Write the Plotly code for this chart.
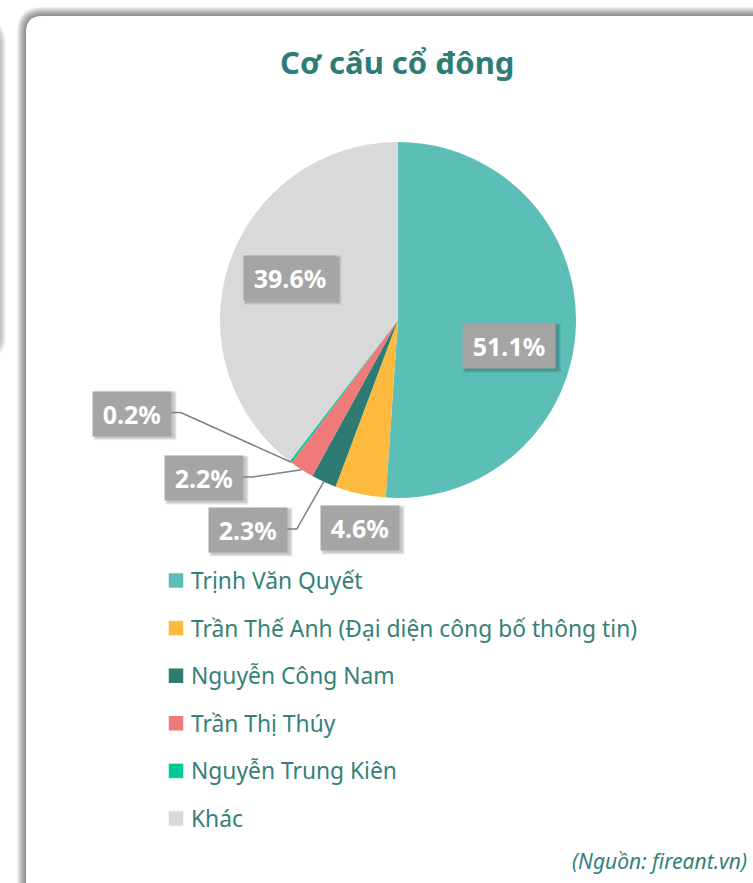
import math
import plotly.graph_objects as go

# ---- data ----
categories = ["Trịnh Văn Quyết", "Trần Thế Anh (Đại diện công bố thông tin)", "Nguyễn Công Nam",
              "Trần Thị Thúy", "Nguyễn Trung Kiên", "Khác"]
shares = [51.1, 4.6, 2.3, 2.2, 0.2, 39.6]
colors = ["#5BBFB8", "#FEB93F", "#2E7B73", "#F07A79", "#00C995", "#D9D9D9"]
title_text = "Cơ cấu cổ đông"
source_text = "(Nguồn: fireant.vn)"

# ---- layout helpers (pixel space) ----
W, H = 753, 883
def X(px): return px / W
def Y(py): return 1 - py / H

CX, CY, R = 398, 320, 178
TEAL = "#2E7D74"
FONT = "Noto Sans"

def rr(x0, y0, x1, y1, r):
    p = [
        f"M{X(x0+r)},{Y(y0)}", f"L{X(x1-r)},{Y(y0)}", f"Q{X(x1)},{Y(y0)} {X(x1)},{Y(y0+r)}",
        f"L{X(x1)},{Y(y1-r)}", f"Q{X(x1)},{Y(y1)} {X(x1-r)},{Y(y1)}",
        f"L{X(x0+r)},{Y(y1)}", f"Q{X(x0)},{Y(y1)} {X(x0)},{Y(y1-r)}",
        f"L{X(x0)},{Y(y0+r)}", f"Q{X(x0)},{Y(y0)} {X(x0+r)},{Y(y0)}", "Z"]
    return " ".join(p)

shapes = []
# card shadows
for i in range(1, 10):
    shapes.append(dict(type="path", xref="paper", yref="paper", layer="below",
                       path=rr(26 - i, 16 - i, 800 + i, 950 + i, 16 + i),
                       fillcolor="rgba(0,0,0,0.06)", line=dict(width=0)))
    shapes.append(dict(type="path", xref="paper", yref="paper", layer="below",
                       path=rr(-60 - i, 28 - i, -3 + i, 352 + i, 16 + i),
                       fillcolor="rgba(0,0,0,0.045)", line=dict(width=0)))
shapes.append(dict(type="path", xref="paper", yref="paper", layer="below",
                   path=rr(26, 16, 800, 950, 16), fillcolor="white", line=dict(width=0)))
shapes.append(dict(type="path", xref="paper", yref="paper", layer="below",
                   path=rr(-60, 28, -3, 352, 16), fillcolor="white", line=dict(width=0)))

# ---- data labels (box centres, in data order) ----
label_centers = [(509, 345), (360, 527), (248, 529), (204, 477), (132, 412.5), (289.5, 277)]
leader = [False, False, True, True, True, False]
annotations = []
total = sum(shares)
cum = 0
for i, v in enumerate(shares):
    mid = (cum + v / 2) / total * 2 * math.pi
    cum += v
    cx, cy = label_centers[i]
    txt = f"{v:.1f}%"
    bw = 92 if len(txt) > 4 else 77.5
    bh = 43.5
    # box shadow
    for k, a in enumerate([0.10, 0.08, 0.06]):
        shapes.append(dict(type="rect", xref="paper", yref="paper", layer="above",
                           x0=X(cx - bw / 2 + 2 - k), x1=X(cx + bw / 2 + 4 + k),
                           y0=Y(cy - bh / 2 + 2 - k), y1=Y(cy + bh / 2 + 4 + k),
                           fillcolor=f"rgba(0,0,0,{a})", line=dict(width=0)))
    if leader[i]:
        ex = CX + R * math.sin(mid)
        ey = CY - R * math.cos(mid)
        bx = cx + bw / 2
        shapes.append(dict(type="path", xref="paper", yref="paper", layer="above",
                           path=f"M{X(bx)},{Y(cy)} L{X(bx + 10)},{Y(cy)} L{X(ex)},{Y(ey)}",
                           line=dict(color="#7F7F7F", width=1.5)))
    annotations.append(dict(x=X(cx), y=Y(cy + 1), xref="paper", yref="paper", text=f"<b>{txt}</b>",
                            showarrow=False, bgcolor="#A5A5A5", width=bw, height=bh, borderpad=0,
                            font=dict(family=FONT, size=25, color="white"),
                            xanchor="center", yanchor="middle"))

# ---- legend (manual) ----
leg_x, leg_y0, leg_dy, sq = 176, 580.5, 47.6, 14.5
for i, name in enumerate(categories):
    y = leg_y0 + i * leg_dy
    shapes.append(dict(type="rect", xref="paper", yref="paper", layer="above",
                       x0=X(leg_x - sq / 2), x1=X(leg_x + sq / 2), y0=Y(y - sq / 2), y1=Y(y + sq / 2),
                       fillcolor=colors[i], line=dict(width=0)))
    annotations.append(dict(x=X(189), y=Y(y), xref="paper", yref="paper", text=name,
                            showarrow=False, xanchor="left", yanchor="middle",
                            font=dict(family=FONT, size=22.8, color="#35807A")))

# title & source
annotations.append(dict(x=X(397), y=Y(62), xref="paper", yref="paper", text=f"<b>{title_text}</b>",
                        showarrow=False, xanchor="center", yanchor="middle",
                        font=dict(family=FONT, size=31, color=TEAL)))
annotations.append(dict(x=X(749), y=Y(861), xref="paper", yref="paper", text=f"<i>{source_text}</i>",
                        showarrow=False, xanchor="right", yanchor="middle",
                        font=dict(family=FONT, size=21, color="#35807A")))

fig = go.Figure(go.Pie(
    labels=categories, values=shares, sort=False, direction="clockwise", rotation=0,
    marker=dict(colors=colors, line=dict(width=0)), textinfo="none", hoverinfo="label+percent",
    domain=dict(x=[X(CX - R), X(CX + R)], y=[Y(CY + R), Y(CY - R)]), showlegend=False))

fig.update_layout(width=W, height=H, margin=dict(l=0, r=0, t=0, b=0),
                  paper_bgcolor="white", plot_bgcolor="white",
                  shapes=shapes, annotations=annotations, showlegend=False)
fig.write_html("out.html", config=dict(displayModeBar=False),
               post_script="document.body.style.margin='0';document.body.style.overflow='hidden';")
